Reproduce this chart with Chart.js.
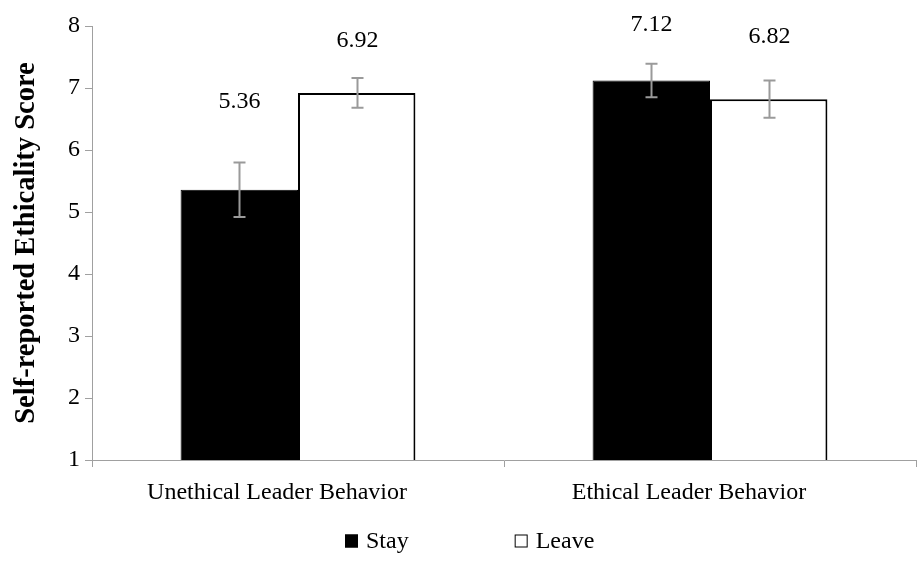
<!DOCTYPE html>
<html>
<head>
<meta charset="utf-8">
<script src="https://cdn.jsdelivr.net/npm/chart.js@4/dist/chart.umd.min.js"></script>
<style>
html,body{margin:0;padding:0;background:#fff;}
#wrap{width:917px;height:562px;}
</style>
</head>
<body>
<div id="wrap"><canvas id="c" width="917" height="562"></canvas></div>
<script>
const categories = ["Unethical Leader Behavior", "Ethical Leader Behavior"];
const seriesNames = ["Stay", "Leave"];
const stayValues = [5.36, 7.12];
const leaveValues = [6.92, 6.82];
const stayErrors = [0.44, 0.27];
const leaveErrors = [0.24, 0.30];
const stayLabelAt = [6.78, 8.02];
const leaveLabelAt = [7.76, 7.82];
const yTicks = [1, 2, 3, 4, 5, 6, 7, 8];

const FONT = "'Liberation Serif', 'Times New Roman', serif";
const errs = [stayErrors, leaveErrors];
const labelPos = [stayLabelAt, leaveLabelAt];

const extras = {
  id: 'extras',
  afterDatasetsDraw(chart) {
    const ctx = chart.ctx;
    const y = chart.scales.y;
    ctx.save();
    chart.data.datasets.forEach((ds, di) => {
      const meta = chart.getDatasetMeta(di);
      meta.data.forEach((bar, i) => {
        const v = ds.data[i];
        const e = errs[di][i];
        const x = Math.round(bar.x) + 0.5;
        const yt = y.getPixelForValue(v + e);
        const yb = y.getPixelForValue(v - e);
        ctx.strokeStyle = '#9a9a9a';
        ctx.lineWidth = 2;
        ctx.beginPath();
        ctx.moveTo(x, yt); ctx.lineTo(x, yb);
        ctx.moveTo(x - 6, yt); ctx.lineTo(x + 6, yt);
        ctx.moveTo(x - 6, yb); ctx.lineTo(x + 6, yb);
        ctx.stroke();
        ctx.fillStyle = '#000';
        ctx.font = "24px " + FONT;
        ctx.textAlign = 'center';
        ctx.textBaseline = 'middle';
        ctx.fillText(v.toFixed(2), x, y.getPixelForValue(labelPos[di][i]));
      });
    });
    ctx.restore();
  },
  afterDraw(chart) {
    // legend drawn below the axis, using dataset styles
    const ctx = chart.ctx;
    ctx.save();
    ctx.font = "24px " + FONT;
    ctx.textBaseline = 'middle';
    ctx.textAlign = 'left';
    const cy = 541;
    const box = 13, gapText = 8, gapItems = 106;
    const items = chart.data.datasets.map(ds => ({ ds, w: box + gapText + ctx.measureText(ds.label).width }));
    let x = 345;
    items.forEach(it => {
      ctx.fillStyle = it.ds.backgroundColor;
      ctx.fillRect(x, cy - box / 2, box, box);
      ctx.strokeStyle = '#000';
      ctx.lineWidth = 1;
      ctx.strokeRect(x + 0.5, cy - box / 2 + 0.5, box - 1, box - 1);
      ctx.fillStyle = '#000';
      ctx.fillText(it.ds.label, x + box + gapText, cy + 1);
      x += it.w + gapItems;
    });
    ctx.restore();
  }
};

new Chart(document.getElementById('c'), {
  type: 'bar',
  data: {
    labels: categories,
    datasets: [
      { label: seriesNames[0], data: stayValues, backgroundColor: '#000', borderColor: '#000', borderWidth: 1 },
      { label: seriesNames[1], data: leaveValues, backgroundColor: '#fff', borderColor: '#000', borderWidth: 2 }
    ]
  },
  options: {
    responsive: false,
    animation: false,
    devicePixelRatio: 1,
    layout: { padding: { top: 26, right: 1, left: 0, bottom: 0 } },
    datasets: { bar: { categoryPercentage: 0.57, barPercentage: 1.0 } },
    plugins: {
      legend: { display: false },
      tooltip: { enabled: false }
    },
    scales: {
      x: {
        grid: { display: true, drawOnChartArea: false, offset: true, color: '#a0a0a0', tickLength: 7 },
        border: { color: '#a0a0a0', width: 1 },
        ticks: { font: { family: FONT, size: 24 }, color: '#000', padding: 11, labelOffset: -21 },
        afterFit(s) { s.height = 102; }
      },
      y: {
        min: 1, max: 8,
        afterBuildTicks(s) { s.ticks = yTicks.map(v => ({ value: v })); },
        grid: { display: true, drawOnChartArea: false, color: '#a0a0a0', tickLength: 7 },
        border: { color: '#a0a0a0', width: 1 },
        ticks: { font: { family: FONT, size: 24 }, color: '#000', padding: 5 },
        title: { display: true, text: 'Self-reported Ethicality Score', font: { family: FONT, size: 28.5, weight: 'bold' }, color: '#000', padding: { top: 10, bottom: 0 } },
        afterFit(s) { s.width = 92; }
      }
    }
  },
  plugins: [extras]
});
</script>
</body>
</html>
